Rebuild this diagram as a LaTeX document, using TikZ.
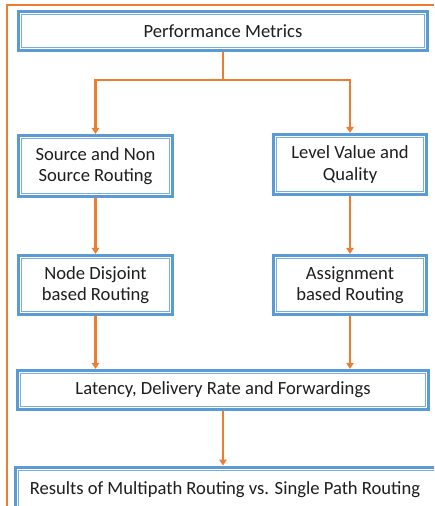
\documentclass[tikz,border=0pt]{standalone}
\usepackage{fontspec}
\setmainfont{Carlito}
\usetikzlibrary{arrows.meta}
\definecolor{bblue}{HTML}{5B9BD5}
\definecolor{bblue2}{HTML}{79AEDD}
\definecolor{orng}{HTML}{ED7D31}
\definecolor{txt}{HTML}{1E1E1E}
\tikzset{
  box/.style={draw=bblue, line width=3.2pt, fill=white, inner sep=0pt, align=center,
    text=txt, font=\fontsize{18.6pt}{21.5pt}\selectfont},
  innerline/.style={draw=bblue2, line width=1.1pt},
  conn/.style={draw=orng, line width=2.3pt},
  arr/.style={conn, -{Triangle[width=7.5pt,length=6pt]}},
  frame/.style={draw=orng, line width=1.6pt}
}
\begin{document}
\begin{tikzpicture}[x=1pt,y=-1pt]
\useasboundingbox (0,0) rectangle (434,506);
\clip (0,0) rectangle (434,506);
\draw[frame] (7,530) -- (7,5) -- (460,5);
\node[box, minimum width=409pt, minimum height=39pt] (pm) at (223,31) {Performance Metrics};
\node[box, minimum width=154pt, minimum height=61pt] (snr) at (95.5,166) {Source and Non\\Source Routing};
\node[box, minimum width=153pt, minimum height=60pt] (lvq) at (350,164.5) {Level Value and\\Quality};
\node[box, minimum width=154pt, minimum height=59pt] (ndr) at (95.5,285) {Node Disjoint\\based Routing};
\node[box, minimum width=153pt, minimum height=59pt] (abr) at (350,285) {Assignment\\based Routing};
\node[box, minimum width=411pt, minimum height=39pt] (ldr) at (223,390) {Latency, Delivery Rate and Forwardings};
\node[box, minimum width=430pt, minimum height=53pt, anchor=north west] (res) at (13.5,465.5) {};
\node[text=txt, font=\fontsize{18.6pt}{21.5pt}\selectfont] (restext) at (225,490) {Results of Multipath Routing vs. Single Path Routing};
\foreach \n in {pm,snr,lvq,ndr,abr,ldr,res}{
  \draw[innerline] ([shift={(4.6pt,-4.6pt)}]\n.north west) rectangle ([shift={(-4.6pt,4.6pt)}]\n.south east);
}
\coordinate (j) at (223,80);
\draw[conn] (pm.south) -- (j);
\draw[arr] (j) -| (snr.north);
\draw[arr] (j) -| (lvq.north);
\draw[arr] (snr.south) -- (ndr.north);
\draw[arr] (lvq.south) -- (abr.north);
\draw[arr] (ndr.south) -- (ndr.south |- ldr.north);
\draw[arr] (abr.south) -- (abr.south |- ldr.north);
\draw[arr] (ldr.south) -- (ldr.south |- res.north);
\end{tikzpicture}
\end{document}
